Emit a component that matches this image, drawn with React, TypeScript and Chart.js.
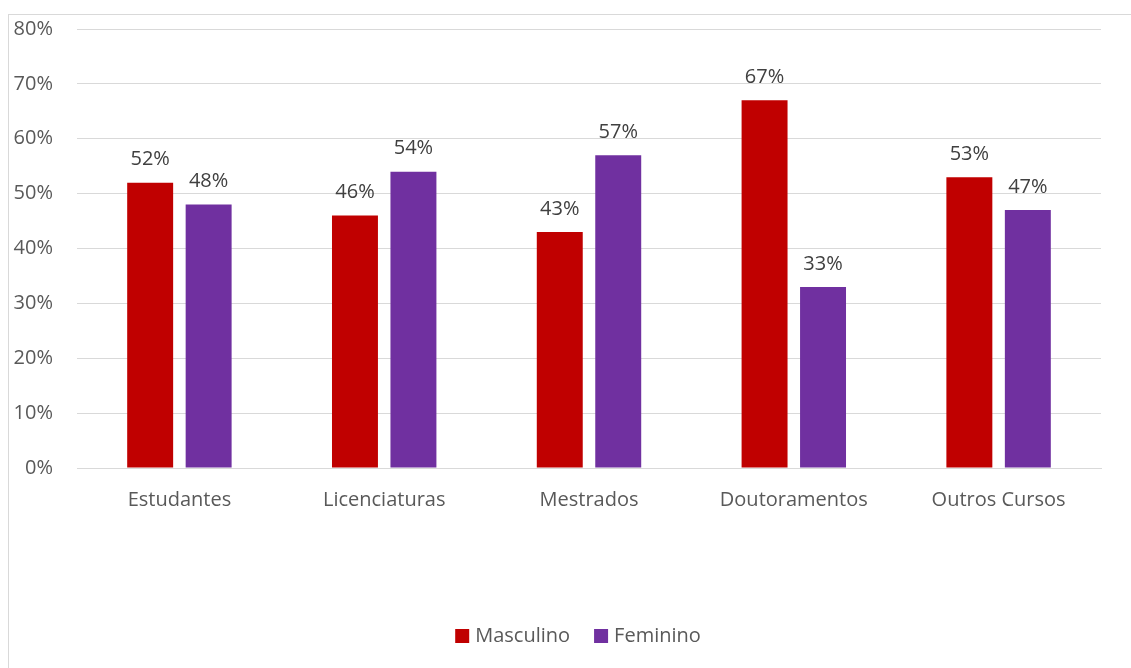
import React, { useEffect, useRef } from "react";
import { Chart, registerables } from "chart.js";

Chart.register(...registerables);

const categories = ["Estudantes", "Licenciaturas", "Mestrados", "Doutoramentos", "Outros Cursos"];
const masculino = [52, 46, 43, 67, 53];
const feminino = [48, 54, 57, 33, 47];
const yTicks = [0, 10, 20, 30, 40, 50, 60, 70, 80];

const FONT = "'Open Sans', sans-serif";
const FS = 20;

const dataLabels = {
  id: "dataLabels",
  afterDatasetsDraw(chart: any) {
    const ctx = chart.ctx;
    ctx.save();
    ctx.font = `${FS}px ${FONT}`;
    ctx.fillStyle = "#404040";
    ctx.textAlign = "center";
    ctx.textBaseline = "bottom";
    chart.data.datasets.forEach((ds: any, i: number) => {
      const meta = chart.getDatasetMeta(i);
      meta.data.forEach((bar: any, j: number) => {
        ctx.fillText(`${ds.data[j]}%`, bar.x, bar.y - 13);
      });
    });
    ctx.restore();
  },
};

const customLegend = {
  id: "customLegend",
  afterDraw(chart: any) {
    const ctx = chart.ctx;
    ctx.save();
    ctx.font = `${FS}px ${FONT}`;
    const box = 14;
    const gapText = 6;
    const gapItem = 24;
    const items = chart.data.datasets.map((ds: any) => ({
      label: ds.label,
      color: ds.backgroundColor,
      w: box + gapText + ctx.measureText(ds.label).width,
    }));
    const total = items.reduce((s: number, it: any) => s + it.w, 0) + gapItem * (items.length - 1);
    const cx = 578;
    const cy = 636;
    let x = cx - total / 2;
    ctx.textBaseline = "middle";
    ctx.textAlign = "left";
    items.forEach((it: any) => {
      ctx.fillStyle = it.color;
      ctx.fillRect(x, cy - box / 2, box, box);
      ctx.fillStyle = "#595959";
      ctx.fillText(it.label, x + box + gapText, cy);
      x += it.w + gapItem;
    });
    ctx.restore();
  },
};

export default function App() {
  const ref = useRef<HTMLCanvasElement>(null);
  useEffect(() => {
    const chart = new Chart(ref.current!, {
      type: "bar",
      data: {
        labels: categories,
        datasets: [
          { label: "Masculino", data: masculino, backgroundColor: "#C00000" },
          { label: "Feminino", data: feminino, backgroundColor: "#7030A0" },
        ],
      },
      options: {
        animation: false,
        responsive: false,
        maintainAspectRatio: false,
        layout: { padding: { left: 8, right: 30, top: 29, bottom: 0 } },
        datasets: {
          bar: { categoryPercentage: 0.571, barPercentage: 0.786 },
        },
        scales: {
          x: {
            grid: { display: false },
            border: { display: true, color: "#d9d9d9", width: 1 },
            ticks: { color: "#595959", font: { family: FONT, size: FS }, padding: 12 },
            afterFit(scale: any) {
              scale.height = 200;
              scale.paddingLeft = 0;
              scale.paddingRight = 0;
            },
          },
          y: {
            min: 0,
            max: 80,
            afterBuildTicks(scale: any) {
              scale.ticks = yTicks.map((v) => ({ value: v }));
            },
            grid: { color: "#d9d9d9", drawTicks: false, lineWidth: 1 },
            border: { display: false },
            ticks: {
              color: "#595959",
              font: { family: FONT, size: FS },
              padding: 24,
              callback: (v: any) => `${v}%`,
            },
            afterFit(scale: any) {
              scale.width = 69;
              scale.paddingTop = 0;
              scale.paddingBottom = 0;
            },
          },
        },
        plugins: {
          legend: { display: false },
          tooltip: { enabled: false },
        },
      },
      plugins: [dataLabels, customLegend],
    });
    return () => chart.destroy();
  }, []);
  return (
    <div style={{ position: "fixed", left: 0, top: 0, width: 1131, height: 668, overflow: "hidden", background: "#fff" }}>
      <div
        style={{
          position: "absolute",
          left: 8,
          top: 14,
          width: 1200,
          height: 700,
          border: "1px solid #d9d9d9",
          boxSizing: "border-box",
        }}
      />
      <canvas ref={ref} width={1131} height={668} style={{ position: "absolute", left: 0, top: 0 }} />
    </div>
  );
}
